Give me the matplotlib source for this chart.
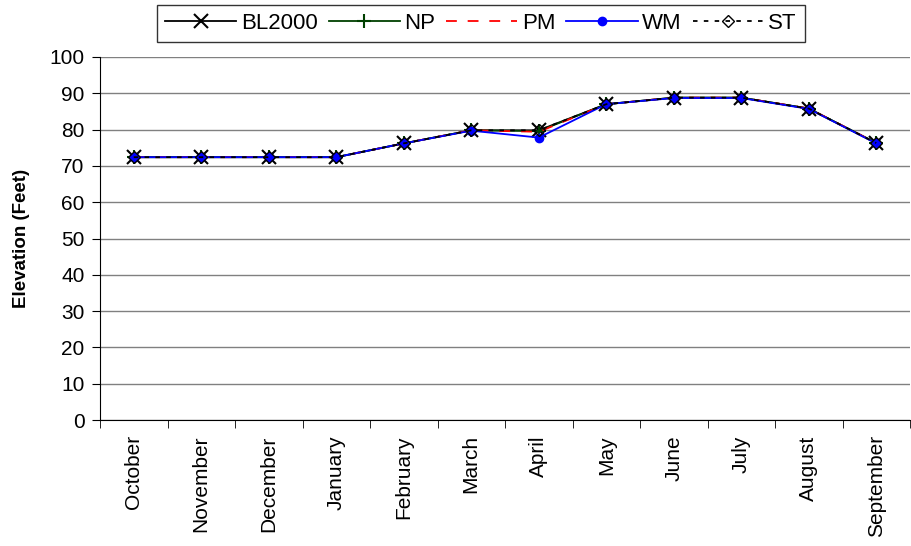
import matplotlib.pyplot as plt
import numpy as np

plt.rcParams['font.family'] = ['Liberation Sans', 'DejaVu Sans']

months = ['October', 'November', 'December', 'January', 'February', 'March',
          'April', 'May', 'June', 'July', 'August', 'September']
bl2000 = [72.4, 72.4, 72.4, 72.4, 76.2, 79.8, 79.8, 87.0, 88.8, 88.8, 85.8, 76.3]
np_alt = [72.4, 72.4, 72.4, 72.4, 76.2, 79.8, 79.6, 87.0, 88.8, 88.8, 85.8, 76.3]
pm = [72.4, 72.4, 72.4, 72.4, 76.2, 79.8, 79.4, 87.0, 88.8, 88.8, 85.8, 76.3]
wm = [72.4, 72.4, 72.4, 72.4, 76.2, 79.7, 77.8, 87.0, 88.7, 88.7, 85.7, 76.2]
st = [72.4, 72.4, 72.4, 72.4, 76.2, 79.8, 79.8, 87.0, 88.8, 88.8, 85.8, 76.3]

fig = plt.figure(figsize=(9.11, 5.46), dpi=100)
ax = fig.add_axes([100 / 911, 1 - 420 / 546, 810 / 911, 363 / 546])

x = np.arange(len(months))
ax.plot(x, bl2000, color='black', lw=1.3, marker='x', ms=10, mew=1.5, label='BL2000')
ax.plot(x, np_alt, color='#004000', lw=1.3, marker='+', ms=10, mew=1.5, label='NP')
ax.plot(x, pm, color='red', lw=1.3, ls=(0, (6, 6)), label='PM')
ax.plot(x, wm, color='blue', lw=1.3, marker='o', ms=6, label='WM')
ax.plot(x, st, color='black', lw=1.3, ls=(0, (2.5, 3.5)), marker='D', ms=6,
        mfc='none', mec='black', label='ST')

ax.set_ylim(0, 100)
ax.set_yticks(range(0, 101, 10))
ax.set_xlim(-0.5, len(months) - 0.5)
ax.set_xticks(x)
ax.set_xticklabels(months, rotation=90, fontsize=15)
ax.set_xticks(np.arange(-0.5, len(months), 1), minor=True)
ax.tick_params(axis='x', which='major', length=0, pad=11)
ax.tick_params(axis='x', which='minor', length=6, color='black')
ax.tick_params(axis='y', labelsize=15, length=6, pad=5, color='black')
ax.grid(axis='y', color='#808080', lw=1)
ax.set_axisbelow(True)
for s in ['top', 'right']:
    ax.spines[s].set_visible(False)
ax.set_ylabel('Elevation (Feet)', fontsize=13.5, fontweight='bold', labelpad=14)

leg = ax.legend(loc='upper center', bbox_to_anchor=(481 / 911, 1 - 5 / 546),
                bbox_transform=fig.transFigure, ncol=5, fontsize=16,
                frameon=True, fancybox=False, edgecolor='black',
                handlelength=3.2, columnspacing=0.5, handletextpad=0.2,
                borderpad=0.35, borderaxespad=0)
leg.get_frame().set_linewidth(1)

fig.savefig('out.png', dpi=100)
